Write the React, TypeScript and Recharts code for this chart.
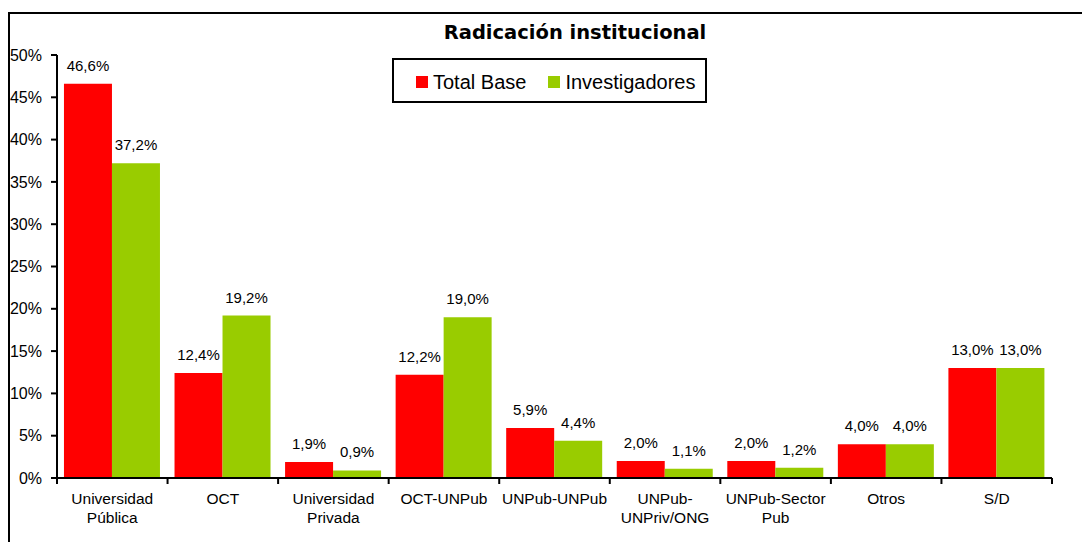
import React from 'react';
import { BarChart, Bar, XAxis, YAxis, LabelList } from 'recharts';

// ── data ──────────────────────────────────────────────
const categories = [
  'Universidad\nPública',
  'OCT',
  'Universidad\nPrivada',
  'OCT-UNPub',
  'UNPub-UNPub',
  'UNPub-\nUNPriv/ONG',
  'UNPub-Sector\nPub',
  'Otros',
  'S/D',
];
const totalBase = [46.6, 12.4, 1.9, 12.2, 5.9, 2.0, 2.0, 4.0, 13.0];
const investigadores = [37.2, 19.2, 0.9, 19.0, 4.4, 1.1, 1.2, 4.0, 13.0];
const yTicks = [0, 5, 10, 15, 20, 25, 30, 35, 40, 45, 50];

const data = categories.map((name, i) => ({
  name,
  total: totalBase[i],
  inv: investigadores[i],
}));

// ── styles ────────────────────────────────────────────
const W = 1082;
const H = 542;
const margin = { top: 55, right: 30, left: 0, bottom: 0 };
const yAxisWidth = 57;
const band = (W - margin.left - margin.right - yAxisWidth) / categories.length;
const arial = '"Liberation Sans", Arial, sans-serif';
const RED = '#ff0000';
const GREEN = '#99cc00';

const pct = (v: any) => `${Number(v).toFixed(1).replace('.', ',')}%`;

function CategoryTick(props: any) {
  const { x, y, payload, index } = props;
  const lines = String(payload.value).split('\n');
  const left = x - band / 2;
  const right = x + band / 2;
  return (
    <g>
      <line x1={left} y1={y - 8} x2={left} y2={y - 2} stroke="#000" strokeWidth={2} />
      {index === categories.length - 1 && (
        <line x1={right} y1={y - 8} x2={right} y2={y - 2} stroke="#000" strokeWidth={2} />
      )}
      {lines.map((l, i) => (
        <text
          key={i}
          x={x}
          y={y + 18 + i * 19}
          textAnchor="middle"
          fontFamily={arial}
          fontSize={15.5}
          fill="#000"
        >
          {l}
        </text>
      ))}
    </g>
  );
}

function LegendBox() {
  const item = (color: string, label: string, gap: number) => (
    <span style={{ display: 'inline-flex', alignItems: 'center', marginRight: gap }}>
      <span style={{ width: 12, height: 12, background: color, display: 'inline-block', marginRight: 5 }} />
      <span>{label}</span>
    </span>
  );
  return (
    <div
      style={{
        position: 'absolute',
        left: 392,
        top: 58,
        border: '2px solid #000',
        width: 315,
        height: 45,
        boxSizing: 'border-box',
        display: 'flex',
        alignItems: 'center',
        paddingLeft: 22,
        paddingTop: 3,
        fontFamily: arial,
        fontSize: 20,
        color: '#000',
        background: '#fff',
        whiteSpace: 'nowrap',
      }}
    >
      {item(RED, 'Total Base', 22)}
      {item(GREEN, 'Investigadores', 0)}
    </div>
  );
}

export default function App() {
  return (
    <div
      style={{
        position: 'absolute',
        left: 0,
        top: 0,
        width: W,
        height: H,
        overflow: 'hidden',
        background: '#fff',
      }}
    >
      {/* outer chart frame (right and bottom edges fall outside the picture) */}
      <div
        style={{
          position: 'absolute',
          left: 8,
          top: 12,
          width: W + 20,
          height: H + 20,
          border: '2px solid #000',
        }}
      />
      <div
        style={{
          position: 'absolute',
          left: 0,
          width: 1150,
          top: 21,
          textAlign: 'center',
          fontFamily: '"DejaVu Sans", Verdana, sans-serif',
          fontWeight: 'bold',
          fontSize: 19.5,
          color: '#000',
        }}
      >
        Radicación institucional
      </div>
      <div style={{ position: 'absolute', left: 0, top: 0 }}>
        <BarChart
          width={W}
          height={H}
          data={data}
          margin={margin}
          barCategoryGap="6.3%"
          barGap={0}
        >
          <XAxis
            dataKey="name"
            interval={0}
            height={64}
            axisLine={{ stroke: '#000', strokeWidth: 2 }}
            tickLine={false}
            tick={<CategoryTick />}
          />
          <YAxis
            width={yAxisWidth}
            domain={[0, 50]}
            ticks={yTicks}
            interval={0}
            tickFormatter={(v) => `${v}%`}
            axisLine={{ stroke: '#000', strokeWidth: 2 }}
            tickLine={{ stroke: '#000', strokeWidth: 2 }}
            tickSize={6}
            tickMargin={9}
            tick={{ fill: '#000', fontSize: 16, fontFamily: arial }}
          />
          <Bar dataKey="total" name="Total Base" fill={RED} isAnimationActive={false}>
            <LabelList
              dataKey="total"
              position="top"
              offset={13}
              formatter={pct}
              fill="#000"
              fontSize={15}
              fontFamily={arial}
            />
          </Bar>
          <Bar dataKey="inv" name="Investigadores" fill={GREEN} isAnimationActive={false}>
            <LabelList
              dataKey="inv"
              position="top"
              offset={13}
              formatter={pct}
              fill="#000"
              fontSize={15}
              fontFamily={arial}
            />
          </Bar>
        </BarChart>
      </div>
      <LegendBox />
    </div>
  );
}
